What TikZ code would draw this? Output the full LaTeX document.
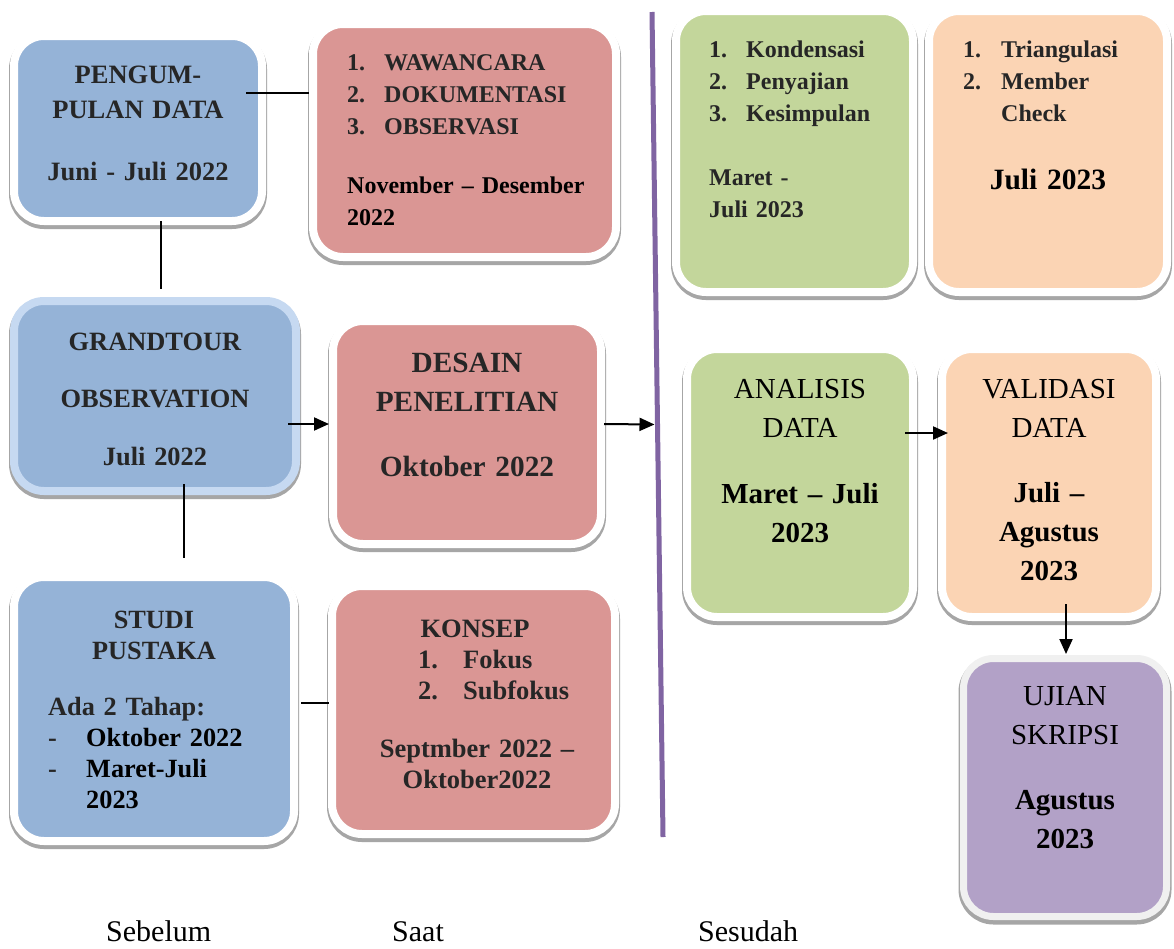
\documentclass[tikz,border=0pt]{standalone}
\usepackage{fontspec}
\setmainfont{Liberation Serif}
\usetikzlibrary{arrows.meta,calc}
\definecolor{cblue}{HTML}{95B3D7}
\definecolor{cred}{HTML}{DA9694}
\definecolor{cgreen}{HTML}{C3D69B}
\definecolor{cpeach}{HTML}{FBD4B4}
\definecolor{cpurple}{HTML}{B2A1C7}
\definecolor{cframeblue}{HTML}{C6D9F1}
\definecolor{cframegray}{HTML}{F0F0F0}
\definecolor{divc}{HTML}{8064A2}
\definecolor{tdark}{HTML}{262626}
\definecolor{shadowc}{HTML}{A6A6A6}
\newcommand\fsz[2]{\fontsize{#1}{#2}\selectfont}
\newcommand\numbox[2]{\makebox[#1][l]{#2}}
\tikzset{
  card/.style={rounded corners=30pt, inner sep=0pt, fill=#1, draw=white, line width=8pt,
    preaction={draw=shadowc, fill=shadowc, line width=10pt, transform canvas={yshift=-3pt}}},
  txt/.style={inner sep=0pt, anchor=base, text=tdark},
  conn/.style={line width=2pt, draw=black},
  arr/.style={conn, -{Triangle[length=15pt,width=13pt]}},
}
\begin{document}
\begin{tikzpicture}[x=1pt,y=-1pt]
\useasboundingbox (0,0) rectangle (1174,948);
\fill[white] (0,0) rectangle (1174,948);

% boxes
\node[card=cblue, minimum width=248pt, minimum height=185pt] (peng) at (138,128.5) {};
\node[card=cred, minimum width=303pt, minimum height=233pt] (teknik) at (464.5,140.5) {};
\node[card=cblue, draw=cframeblue, minimum width=282pt, minimum height=190pt] (grand) at (155,396) {};
\node[card=cred, minimum width=268pt, minimum height=223pt] (desain) at (467,432.5) {};
\node[card=cblue, minimum width=280pt, minimum height=264pt] (studi) at (154,709) {};
\node[card=cred, minimum width=283pt, minimum height=248pt] (konsep) at (473.5,710) {};
\node[card=cgreen, minimum width=237pt, minimum height=281pt] (reduksi) at (794.5,151.5) {};
\node[card=cpeach, minimum width=238pt, minimum height=281pt] (uji) at (1048,151.5) {};
\node[card=cgreen, minimum width=226pt, minimum height=268pt] (analisis) at (800,483) {};
\node[card=cpeach, minimum width=214pt, minimum height=268pt] (validasi) at (1049,483) {};
\node[card=cpurple, draw=cframegray, line width=7pt, minimum width=203pt, minimum height=258pt] (ujian) at (1065,787.5) {};

% texts
\node[txt, text width=230pt, align=center, font=\bfseries\fsz{26.5}{35}] (pengT) at (138,83)
  {PENGUM-\\PULAN DATA\\[27pt]Juni - Juli 2022};
\node[txt, anchor=base west, text width=265pt, align=left, font=\bfseries\fsz{24}{32}] (teknikT) at (347,70)
  {\numbox{37pt}{1.}WAWANCARA\\\numbox{37pt}{2.}DOKUMENTASI\\\numbox{37pt}{3.}OBSERVASI\\[27pt]\color{black}November – Desember\\2022};
\node[txt, text width=260pt, align=center, font=\bfseries\fsz{26.4}{57.5}] (grandT) at (155,350)
  {GRANDTOUR\\OBSERVATION\\Juli 2022};
\node[txt, text width=250pt, align=center, font=\bfseries\fsz{29.3}{39}] (desainT) at (467,372)
  {DESAIN\\PENELITIAN\\[26pt]Oktober 2022};
\node[txt, text width=250pt, align=center, font=\bfseries\fsz{26.3}{31}] (studiT) at (154,628)
  {STUDI\\PUSTAKA};
\node[txt, anchor=base west, text width=235pt, align=left, font=\bfseries\fsz{26.3}{31}] (studiL) at (48,715)
  {Ada 2 Tahap:\\\numbox{38pt}{-}{\color{black}Oktober 2022}\\\numbox{38pt}{-}{\color{black}Maret-Juli}\\\hspace*{38pt}{\color{black}2023}};
\node[txt, text width=250pt, align=center, font=\bfseries\fsz{26.5}{31}] (konsepT) at (475,637)
  {KONSEP};
\node[txt, anchor=base west, text width=190pt, align=left, font=\bfseries\fsz{26.5}{31}] (konsepL) at (418,668)
  {\numbox{45pt}{1.}Fokus\\\numbox{45pt}{2.}Subfokus};
\node[txt, text width=260pt, align=center, font=\bfseries\fsz{26.5}{31}] (konsepD) at (477,757)
  {Septmber 2022 –\\Oktober2022};
\node[txt, anchor=base west, text width=195pt, align=left, font=\bfseries\fsz{24}{32}] (reduksiT) at (709,57)
  {\numbox{37pt}{1.}Kondensasi\\\numbox{37pt}{2.}Penyajian\\\numbox{37pt}{3.}Kesimpulan\\[32pt]Maret -\\Juli 2023};
\node[txt, anchor=base west, text width=195pt, align=left, font=\bfseries\fsz{24}{32}] (ujiT) at (963,57)
  {\numbox{38pt}{1.}Triangulasi\\\numbox{38pt}{2.}Member\\\hspace*{38pt}Check};
\node[txt, text=black, text width=200pt, align=center, font=\bfseries\fsz{29.5}{36}] (ujiD) at (1048,189)
  {Juli 2023};
\node[txt, text=black, text width=210pt, align=center, font=\fsz{29}{39}] (analisisT) at (800,398)
  {ANALISIS\\DATA\\[27pt]\bfseries Maret – Juli\\2023};
\node[txt, text=black, text width=200pt, align=center, font=\fsz{29}{39}] (validasiT) at (1049,398)
  {VALIDASI\\DATA\\[26pt]\bfseries Juli –\\Agustus\\2023};
\node[txt, text=black, text width=190pt, align=center, font=\fsz{29}{39}] (ujianT) at (1065,705)
  {UJIAN\\SKRIPSI\\[26pt]\bfseries Agustus\\2023};

% bottom labels
\node[txt, text=black, anchor=base west, font=\fsz{30}{36}] (lblA) at (106,941) {Sebelum};
\node[txt, text=black, anchor=base west, font=\fsz{30}{36}] (lblB) at (392,941) {Saat};
\node[txt, text=black, anchor=base west, font=\fsz{30}{36}] (lblC) at (698,941) {Sesudah};

% divider
\coordinate (divtop) at (652,12);
\coordinate (divbot) at (663,837);
\draw[line width=5pt, divc] (divtop) -- (divbot);

% connectors
\draw[conn] ($(peng.east)+(-20,-35.5)$) -- ($(teknik.west)+(0,-47.5)$);
\draw[conn] ($(peng.south)+(23,-4)$) -- ($(grand.north)+(6,-8)$);
\draw[arr] ($(grand.east)+(-12,28)$) -- ($(desain.west)+(0,-8.5)$);
\draw[conn] ($(grand.south)+(29,-11)$) -- ($(studi.north)+(30,-15)$);
\draw[conn] ($(studi.east)+(3,-6)$) -- ($(konsep.west)+(1,-7)$);
\draw[arr] ($(desain.east)+(-1,-8.5)$) -- ($(divtop)!0.5!(divbot)+(-3,0)$);
\draw[arr] ($(analisis.east)+(-12,-50)$) -- ($(validasi.west)+(10,-50)$);
\draw[arr] ($(validasi.south)+(17,-17)$) -- ($(ujian.north)+(1,-1)$);
\end{tikzpicture}
\end{document}
